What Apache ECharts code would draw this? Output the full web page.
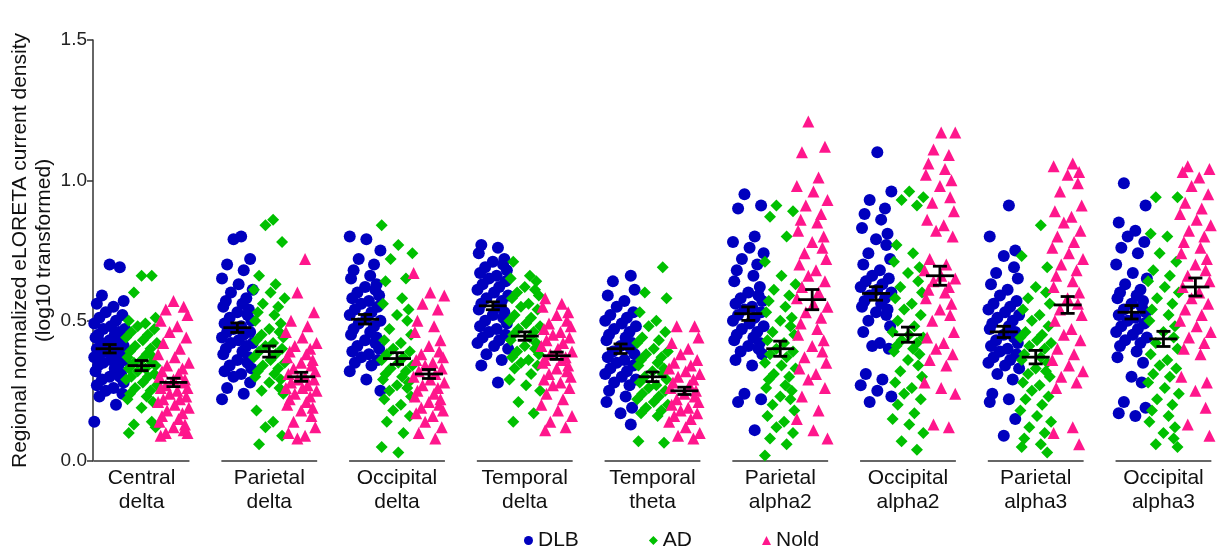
<!DOCTYPE html>
<html>
<head>
<meta charset="utf-8">
<script src="https://cdn.jsdelivr.net/npm/echarts@6/dist/echarts.min.js"></script>
<style>
  html, body { margin: 0; padding: 0; background: #fff; }
  #chart { width: 1221px; height: 552px; }
</style>
</head>
<body>
<div id="chart"></div>
<script>
"use strict";
// categories (x axis)
var categories = ["Central\ndelta", "Parietal\ndelta", "Occipital\ndelta", "Temporal\ndelta",
  "Temporal\ntheta", "Parietal\nalpha2", "Occipital\nalpha2", "Parietal\nalpha3", "Occipital\nalpha3"];
var yTicks = [0, 0.5, 1.0, 1.5];

// DLB values per region
var dlbValues = [
  [0.70, 0.69, 0.59, 0.57, 0.56, 0.55, 0.53, 0.52, 0.51, 0.50, 0.49, 0.48, 0.47, 0.47, 0.46, 0.45, 0.45, 0.44, 0.43, 0.43, 0.42, 0.42, 0.41, 0.40, 0.40, 0.39, 0.39, 0.38, 0.37, 0.37, 0.36, 0.36, 0.35, 0.34, 0.34, 0.33, 0.32, 0.31, 0.30, 0.30, 0.29, 0.28, 0.27, 0.26, 0.25, 0.24, 0.23, 0.20, 0.14],
  [0.80, 0.79, 0.72, 0.70, 0.68, 0.65, 0.63, 0.61, 0.60, 0.58, 0.57, 0.56, 0.55, 0.54, 0.53, 0.52, 0.51, 0.50, 0.49, 0.48, 0.47, 0.46, 0.46, 0.45, 0.44, 0.43, 0.42, 0.42, 0.41, 0.40, 0.39, 0.38, 0.37, 0.36, 0.35, 0.34, 0.33, 0.32, 0.31, 0.30, 0.28, 0.26, 0.24, 0.22],
  [0.80, 0.79, 0.75, 0.72, 0.70, 0.68, 0.66, 0.65, 0.63, 0.62, 0.61, 0.60, 0.59, 0.58, 0.57, 0.56, 0.55, 0.54, 0.53, 0.52, 0.51, 0.50, 0.49, 0.48, 0.47, 0.46, 0.45, 0.44, 0.43, 0.42, 0.41, 0.40, 0.39, 0.38, 0.37, 0.36, 0.35, 0.34, 0.32, 0.29, 0.25],
  [0.77, 0.76, 0.74, 0.72, 0.71, 0.70, 0.69, 0.68, 0.67, 0.66, 0.65, 0.64, 0.63, 0.62, 0.61, 0.60, 0.59, 0.58, 0.57, 0.56, 0.55, 0.54, 0.53, 0.52, 0.51, 0.50, 0.49, 0.48, 0.47, 0.46, 0.45, 0.44, 0.43, 0.42, 0.41, 0.40, 0.38, 0.36, 0.34, 0.28],
  [0.66, 0.64, 0.61, 0.59, 0.57, 0.55, 0.53, 0.52, 0.51, 0.50, 0.49, 0.48, 0.47, 0.46, 0.45, 0.44, 0.43, 0.42, 0.41, 0.40, 0.39, 0.38, 0.37, 0.36, 0.35, 0.34, 0.33, 0.32, 0.31, 0.30, 0.29, 0.28, 0.27, 0.25, 0.23, 0.21, 0.19, 0.17, 0.13],
  [0.95, 0.91, 0.90, 0.80, 0.78, 0.76, 0.74, 0.72, 0.70, 0.68, 0.66, 0.64, 0.62, 0.60, 0.59, 0.58, 0.57, 0.56, 0.55, 0.54, 0.53, 0.52, 0.51, 0.50, 0.49, 0.48, 0.47, 0.46, 0.45, 0.44, 0.43, 0.42, 0.41, 0.40, 0.39, 0.38, 0.36, 0.34, 0.24, 0.22, 0.21, 0.11],
  [1.10, 0.96, 0.93, 0.90, 0.88, 0.86, 0.83, 0.81, 0.79, 0.77, 0.74, 0.72, 0.70, 0.68, 0.66, 0.65, 0.64, 0.63, 0.62, 0.61, 0.60, 0.59, 0.58, 0.57, 0.56, 0.55, 0.54, 0.53, 0.52, 0.50, 0.48, 0.46, 0.42, 0.41, 0.40, 0.31, 0.29, 0.27, 0.25, 0.23, 0.21],
  [0.91, 0.80, 0.75, 0.73, 0.69, 0.67, 0.65, 0.63, 0.61, 0.59, 0.57, 0.56, 0.55, 0.54, 0.53, 0.52, 0.51, 0.50, 0.49, 0.48, 0.47, 0.46, 0.45, 0.44, 0.43, 0.42, 0.41, 0.40, 0.39, 0.38, 0.37, 0.36, 0.35, 0.34, 0.33, 0.31, 0.29, 0.24, 0.22, 0.21, 0.15, 0.09],
  [0.99, 0.91, 0.85, 0.82, 0.80, 0.78, 0.76, 0.74, 0.70, 0.67, 0.65, 0.63, 0.61, 0.60, 0.59, 0.58, 0.57, 0.56, 0.55, 0.54, 0.53, 0.52, 0.51, 0.50, 0.49, 0.48, 0.47, 0.46, 0.45, 0.44, 0.43, 0.42, 0.41, 0.39, 0.37, 0.35, 0.30, 0.28, 0.21, 0.19, 0.17, 0.16]
];
// AD values per region
var adValues = [
  [0.66, 0.66, 0.60, 0.51, 0.50, 0.49, 0.48, 0.47, 0.46, 0.45, 0.44, 0.43, 0.42, 0.41, 0.40, 0.39, 0.38, 0.37, 0.37, 0.36, 0.35, 0.35, 0.34, 0.33, 0.33, 0.32, 0.31, 0.30, 0.30, 0.29, 0.28, 0.27, 0.26, 0.25, 0.24, 0.23, 0.22, 0.21, 0.19, 0.14, 0.13, 0.12, 0.10],
  [0.86, 0.84, 0.78, 0.66, 0.63, 0.61, 0.60, 0.58, 0.56, 0.55, 0.53, 0.52, 0.50, 0.49, 0.47, 0.46, 0.45, 0.44, 0.43, 0.42, 0.41, 0.40, 0.39, 0.38, 0.37, 0.36, 0.35, 0.34, 0.33, 0.32, 0.31, 0.30, 0.29, 0.28, 0.26, 0.25, 0.24, 0.18, 0.14, 0.12, 0.09, 0.06],
  [0.84, 0.77, 0.74, 0.72, 0.65, 0.64, 0.58, 0.56, 0.54, 0.52, 0.50, 0.47, 0.45, 0.43, 0.42, 0.40, 0.39, 0.38, 0.37, 0.36, 0.35, 0.34, 0.33, 0.32, 0.31, 0.30, 0.29, 0.28, 0.27, 0.26, 0.25, 0.23, 0.22, 0.20, 0.18, 0.16, 0.14, 0.10, 0.05, 0.03],
  [0.71, 0.66, 0.65, 0.64, 0.62, 0.61, 0.60, 0.59, 0.58, 0.56, 0.55, 0.54, 0.52, 0.51, 0.50, 0.49, 0.48, 0.47, 0.46, 0.45, 0.44, 0.43, 0.42, 0.41, 0.40, 0.39, 0.38, 0.37, 0.36, 0.35, 0.34, 0.33, 0.31, 0.29, 0.27, 0.25, 0.21, 0.17, 0.14],
  [0.69, 0.60, 0.58, 0.53, 0.50, 0.48, 0.46, 0.44, 0.43, 0.42, 0.40, 0.39, 0.38, 0.37, 0.36, 0.35, 0.34, 0.33, 0.32, 0.31, 0.30, 0.29, 0.28, 0.27, 0.26, 0.25, 0.24, 0.23, 0.22, 0.21, 0.20, 0.19, 0.18, 0.17, 0.16, 0.07, 0.065],
  [0.91, 0.89, 0.87, 0.80, 0.71, 0.66, 0.63, 0.61, 0.59, 0.57, 0.55, 0.53, 0.51, 0.50, 0.48, 0.46, 0.45, 0.43, 0.42, 0.40, 0.39, 0.38, 0.37, 0.35, 0.34, 0.33, 0.31, 0.30, 0.29, 0.27, 0.26, 0.25, 0.23, 0.22, 0.20, 0.18, 0.16, 0.14, 0.12, 0.10, 0.08, 0.06, 0.02],
  [0.96, 0.94, 0.93, 0.91, 0.77, 0.74, 0.71, 0.69, 0.67, 0.64, 0.62, 0.60, 0.58, 0.56, 0.54, 0.52, 0.50, 0.48, 0.46, 0.45, 0.44, 0.43, 0.42, 0.41, 0.40, 0.39, 0.38, 0.36, 0.34, 0.32, 0.30, 0.28, 0.26, 0.24, 0.22, 0.20, 0.17, 0.15, 0.13, 0.10, 0.07, 0.04],
  [0.84, 0.73, 0.69, 0.62, 0.60, 0.58, 0.56, 0.54, 0.52, 0.50, 0.48, 0.46, 0.45, 0.44, 0.43, 0.42, 0.41, 0.40, 0.38, 0.37, 0.36, 0.35, 0.33, 0.32, 0.31, 0.30, 0.28, 0.27, 0.25, 0.23, 0.22, 0.20, 0.18, 0.16, 0.14, 0.12, 0.10, 0.08, 0.06, 0.05, 0.03],
  [0.94, 0.94, 0.81, 0.80, 0.74, 0.71, 0.68, 0.66, 0.64, 0.62, 0.60, 0.58, 0.56, 0.54, 0.52, 0.50, 0.48, 0.46, 0.44, 0.42, 0.40, 0.38, 0.36, 0.34, 0.33, 0.31, 0.30, 0.28, 0.26, 0.24, 0.22, 0.20, 0.18, 0.16, 0.14, 0.12, 0.10, 0.08, 0.06, 0.05]
];
// Nold values per region
var noldValues = [
  [0.57, 0.55, 0.54, 0.52, 0.50, 0.48, 0.46, 0.44, 0.42, 0.40, 0.38, 0.37, 0.35, 0.34, 0.33, 0.32, 0.31, 0.30, 0.29, 0.29, 0.28, 0.27, 0.26, 0.26, 0.25, 0.24, 0.23, 0.22, 0.22, 0.21, 0.20, 0.19, 0.18, 0.17, 0.16, 0.15, 0.14, 0.13, 0.12, 0.11, 0.10, 0.10, 0.09],
  [0.72, 0.60, 0.53, 0.50, 0.48, 0.46, 0.44, 0.42, 0.41, 0.40, 0.39, 0.38, 0.37, 0.36, 0.35, 0.34, 0.33, 0.32, 0.31, 0.30, 0.29, 0.29, 0.28, 0.27, 0.26, 0.26, 0.25, 0.24, 0.23, 0.22, 0.21, 0.20, 0.19, 0.18, 0.16, 0.14, 0.12, 0.10, 0.09, 0.08],
  [0.67, 0.60, 0.59, 0.56, 0.54, 0.50, 0.48, 0.46, 0.43, 0.41, 0.39, 0.38, 0.37, 0.36, 0.35, 0.34, 0.33, 0.32, 0.31, 0.30, 0.29, 0.28, 0.27, 0.26, 0.25, 0.24, 0.23, 0.22, 0.21, 0.20, 0.19, 0.18, 0.17, 0.16, 0.14, 0.12, 0.10, 0.08],
  [0.58, 0.56, 0.55, 0.53, 0.52, 0.50, 0.49, 0.48, 0.47, 0.46, 0.45, 0.44, 0.43, 0.42, 0.41, 0.40, 0.39, 0.38, 0.37, 0.36, 0.36, 0.35, 0.34, 0.33, 0.32, 0.31, 0.30, 0.29, 0.28, 0.27, 0.26, 0.24, 0.22, 0.20, 0.18, 0.16, 0.14, 0.12, 0.11],
  [0.48, 0.48, 0.44, 0.42, 0.40, 0.38, 0.36, 0.35, 0.34, 0.33, 0.32, 0.31, 0.30, 0.29, 0.28, 0.27, 0.26, 0.25, 0.24, 0.23, 0.22, 0.21, 0.20, 0.19, 0.18, 0.17, 0.16, 0.15, 0.14, 0.12, 0.10, 0.09, 0.08],
  [1.21, 1.12, 1.10, 1.01, 0.98, 0.96, 0.93, 0.91, 0.88, 0.86, 0.85, 0.82, 0.80, 0.78, 0.76, 0.74, 0.72, 0.70, 0.68, 0.66, 0.64, 0.62, 0.60, 0.58, 0.56, 0.55, 0.53, 0.51, 0.49, 0.47, 0.45, 0.43, 0.41, 0.39, 0.37, 0.35, 0.33, 0.31, 0.29, 0.26, 0.23, 0.18, 0.15, 0.11, 0.08],
  [1.17, 1.17, 1.11, 1.09, 1.06, 1.04, 1.02, 1.00, 0.98, 0.94, 0.92, 0.89, 0.86, 0.84, 0.82, 0.80, 0.72, 0.70, 0.68, 0.66, 0.65, 0.64, 0.62, 0.61, 0.60, 0.58, 0.56, 0.54, 0.52, 0.50, 0.46, 0.44, 0.42, 0.40, 0.38, 0.36, 0.34, 0.28, 0.26, 0.24, 0.13, 0.12],
  [1.06, 1.05, 1.03, 1.02, 0.99, 0.96, 0.91, 0.89, 0.87, 0.85, 0.82, 0.80, 0.78, 0.76, 0.74, 0.72, 0.70, 0.68, 0.66, 0.64, 0.62, 0.60, 0.58, 0.56, 0.54, 0.52, 0.50, 0.47, 0.45, 0.43, 0.40, 0.38, 0.36, 0.34, 0.32, 0.30, 0.28, 0.26, 0.12, 0.10, 0.06],
  [1.05, 1.04, 1.03, 1.01, 0.98, 0.95, 0.92, 0.90, 0.88, 0.86, 0.84, 0.82, 0.80, 0.78, 0.76, 0.74, 0.72, 0.70, 0.68, 0.66, 0.64, 0.62, 0.60, 0.58, 0.56, 0.54, 0.52, 0.50, 0.48, 0.46, 0.44, 0.42, 0.40, 0.38, 0.30, 0.28, 0.25, 0.19, 0.13, 0.09]
];

// mean and SEM
var dlbMean = [0.40, 0.475, 0.505, 0.553, 0.40, 0.525, 0.597, 0.46, 0.53];
var dlbSem = [0.015, 0.017, 0.017, 0.014, 0.017, 0.024, 0.024, 0.020, 0.024];
var adMean = [0.34, 0.39, 0.365, 0.445, 0.30, 0.40, 0.45, 0.37, 0.435];
var adSem = [0.018, 0.020, 0.021, 0.015, 0.017, 0.027, 0.027, 0.024, 0.027];
var noldMean = [0.28, 0.30, 0.31, 0.375, 0.25, 0.575, 0.66, 0.556, 0.62];
var noldSem = [0.015, 0.016, 0.016, 0.013, 0.013, 0.036, 0.034, 0.030, 0.032];

var chart = echarts.init(document.getElementById("chart"));
var FONT = "Liberation Sans";
var groups = [
  { name: "DLB", values: dlbValues, mean: dlbMean, sem: dlbSem, color: "#0000BE", symbol: "circle", size: 12, shift: -0.25 },
  { name: "AD", values: adValues, mean: adMean, sem: adSem, color: "#00C000", symbol: "diamond", size: 12, shift: 0 },
  { name: "Nold", values: noldValues, mean: noldMean, sem: noldSem, color: "#FF168C", symbol: "triangle", size: 12, shift: 0.25 }
];

// horizontal spread of points inside a column (layout only)
var spread = [0.00, 0.08, -0.06, 0.11, -0.10, 0.03, -0.03, 0.10, -0.08, 0.05,
  -0.12, 0.01, 0.12, -0.05, 0.07, -0.09, 0.04, -0.11, 0.09];
function jitter(i, c) {
  return spread[(i + c * 5) % spread.length];
}

var series = [];
var barData = [];
groups.forEach(function (g) {
  var pts = [];
  g.values.forEach(function (col, c) {
    col.forEach(function (v, i) {
      pts.push([c + g.shift + jitter(i, c), v]);
    });
    barData.push([c + g.shift, g.mean[c], g.sem[c]]);
  });
  series.push({
    name: g.name,
    type: "scatter",
    data: pts,
    symbol: g.symbol,
    symbolSize: g.size,
    itemStyle: { color: g.color, opacity: 1 },
    z: 2
  });
});

// broken x axis: one segment per region
series.push({
  name: "axisSeg",
  type: "custom",
  data: categories.map(function (c, i) { return [i]; }),
  clip: false,
  silent: true,
  renderItem: function (params, api) {
    var a = api.coord([api.value(0) - 0.375, 0]);
    var b = api.coord([api.value(0) + 0.375, 0]);
    return {
      type: "line",
      shape: { x1: a[0], y1: a[1], x2: b[0], y2: b[1] },
      style: { stroke: "#333", lineWidth: 1.5 }
    };
  },
  z: 1
});

// mean +/- SEM bars
series.push({
  name: "meanSem",
  type: "custom",
  data: barData,
  clip: false,
  silent: true,
  renderItem: function (params, api) {
    var x = api.value(0), m = api.value(1), s = api.value(2);
    var c = api.coord([x, m]);
    var top = api.coord([x, m + s]);
    var bot = api.coord([x, m - s]);
    var st = { stroke: "#000", lineWidth: 2.8 };
    return {
      type: "group",
      children: [
        { type: "line", shape: { x1: c[0] - 14, y1: c[1], x2: c[0] + 14, y2: c[1] }, style: st },
        { type: "line", shape: { x1: c[0], y1: top[1], x2: c[0], y2: bot[1] }, style: st },
        { type: "line", shape: { x1: c[0] - 7, y1: top[1], x2: c[0] + 7, y2: top[1] }, style: st },
        { type: "line", shape: { x1: c[0] - 7, y1: bot[1], x2: c[0] + 7, y2: bot[1] }, style: st }
      ]
    };
  },
  z: 5
});

chart.setOption({
  animation: false,
  backgroundColor: "#fff",
  textStyle: { fontFamily: FONT },
  grid: { left: 93, right: 9, top: 40, bottom: 91, outerBoundsMode: "none", containLabel: false },
  legend: {
    data: [
      { name: "DLB", icon: "circle" },
      { name: "AD", icon: "diamond" },
      { name: "Nold", icon: "triangle" }
    ],
    left: 519,
    top: 525,
    itemWidth: 9,
    itemHeight: 9,
    itemGap: 70,
    textStyle: { fontFamily: FONT, fontSize: 21, color: "#111" }
  },
  xAxis: {
    type: "value",
    min: -0.38,
    max: 8.38,
    axisLine: { show: false },
    axisTick: { show: false },
    splitLine: { show: false },
    axisLabel: {
      customValues: categories.map(function (c, i) { return i; }),
      formatter: function (v) { return categories[Math.round(v)] || ""; },
      fontFamily: FONT,
      fontSize: 21,
      lineHeight: 24,
      color: "#111",
      margin: 5
    }
  },
  yAxis: {
    type: "value",
    min: 0,
    max: 1.5,
    interval: 0.5,
    name: "Regional normalized eLORETA current density\n(log10 transformed)",
    nameLocation: "middle",
    nameGap: 37,
    nameMoveOverlap: false,
    nameTextStyle: { fontFamily: FONT, fontSize: 21, color: "#111", lineHeight: 24 },
    axisLine: { show: true, onZero: false, lineStyle: { color: "#333", width: 1.5 } },
    axisTick: { show: true, length: 6, lineStyle: { color: "#333", width: 1.5 } },
    splitLine: { show: false },
    axisLabel: {
      fontFamily: FONT,
      fontSize: 19,
      color: "#222",
      margin: 6,
      formatter: function (v) { return v.toFixed(1); }
    }
  },
  series: series
});
</script>
</body>
</html>
